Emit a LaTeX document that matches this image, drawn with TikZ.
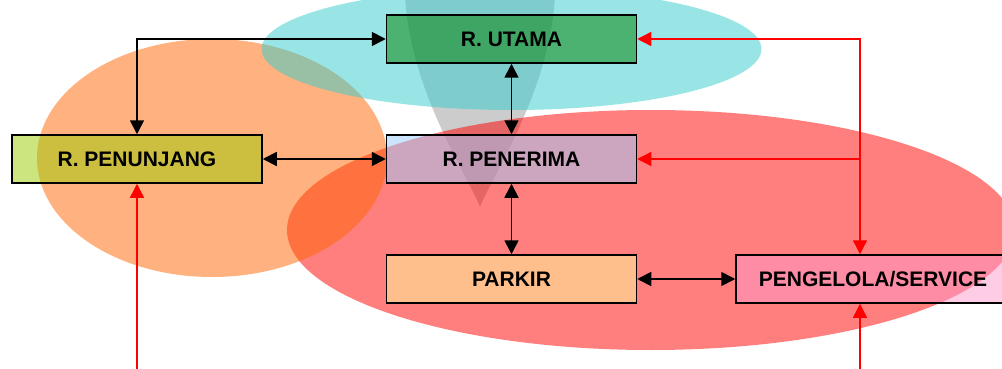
\documentclass[tikz,border=0pt]{standalone}
\usepackage{fontspec}
\setmainfont{Liberation Sans}
\usetikzlibrary{arrows.meta}
\definecolor{cyanE}{HTML}{33CCCC}
\definecolor{orangeE}{HTML}{FF6600}
\definecolor{redE}{HTML}{FF0000}
\definecolor{grayE}{HTML}{999999}
\definecolor{cUtama}{HTML}{008000}
\definecolor{cPenunjang}{HTML}{99CC00}
\definecolor{cPenerima}{HTML}{99CCFF}
\definecolor{cParkir}{HTML}{FFFF99}
\definecolor{cPeng}{HTML}{FF99CC}
\tikzset{
  roombox/.style={draw=black, line width=1.5pt, fill opacity=0.5, text opacity=1, draw opacity=1,
    minimum width=250pt, minimum height=48pt, inner sep=0pt,
    font=\fontsize{21}{25}\selectfont\bfseries},
  blob/.style={fill opacity=0.5, draw=none},
  blk/.style={draw=black, line width=1.7pt, {Triangle[length=14pt,width=14pt]}-{Triangle[length=14pt,width=14pt]}},
  rd/.style={draw=red, line width=1.4pt},
  tip/.style={-{Triangle[length=14pt,width=14pt]}},
  bitip/.style={{Triangle[length=14pt,width=14pt]}-{Triangle[length=14pt,width=14pt]}}
}
\begin{document}
\begin{tikzpicture}[x=1pt,y=-1pt]
\useasboundingbox (0,0) rectangle (1002,369);
\begin{scope}
\clip (0,0) rectangle (1002,369);
% background shapes
\fill[blob, grayE] (405,-5) .. controls (410,90) and (465,170) .. (480,207) .. controls (495,170) and (550,90) .. (555,-5) -- cycle;
\fill[blob, redE] (651,230) ellipse [x radius=364, y radius=120];
\fill[blob, orangeE] (212,158) ellipse [x radius=175, y radius=119];
\fill[blob, cyanE] (511.5,49) ellipse [x radius=250, y radius=61];
% boxes
\node[roombox, fill=cUtama] (utama) at (511.5,39) {R. UTAMA};
\node[roombox, fill=cPenerima] (penerima) at (511.5,159) {R. PENERIMA};
\node[roombox, fill=cParkir] (parkir) at (511.5,279) {PARKIR};
\node[roombox, fill=cPenunjang] (penunjang) at (137,159) {R. PENUNJANG};
\node[roombox, fill=cPeng, minimum width=274pt] (peng) at (873,279) {PENGELOLA/SERVICE};
% black connectors
\draw[blk] (penunjang.north) |- (utama.west);
\draw[blk] (utama.south) -- (penerima.north);
\draw[blk] (penunjang.east) -- (penerima.west);
\draw[blk] (penerima.south) -- (parkir.north);
\draw[blk] (parkir.east) -- (peng.west);
% red connectors
\coordinate (rx) at (860,0);
\coordinate (bl) at (137,375);
\coordinate (br) at (860,375);
\draw[rd, bitip] (utama.east) -| (peng.north -| rx);
\draw[rd, tip] (penerima.east -| rx) -- (penerima.east);
\draw[rd, tip] (bl) -- (penunjang.south);
\draw[rd, tip] (br) -- (peng.south -| br);
\end{scope}
\end{tikzpicture}
\end{document}
